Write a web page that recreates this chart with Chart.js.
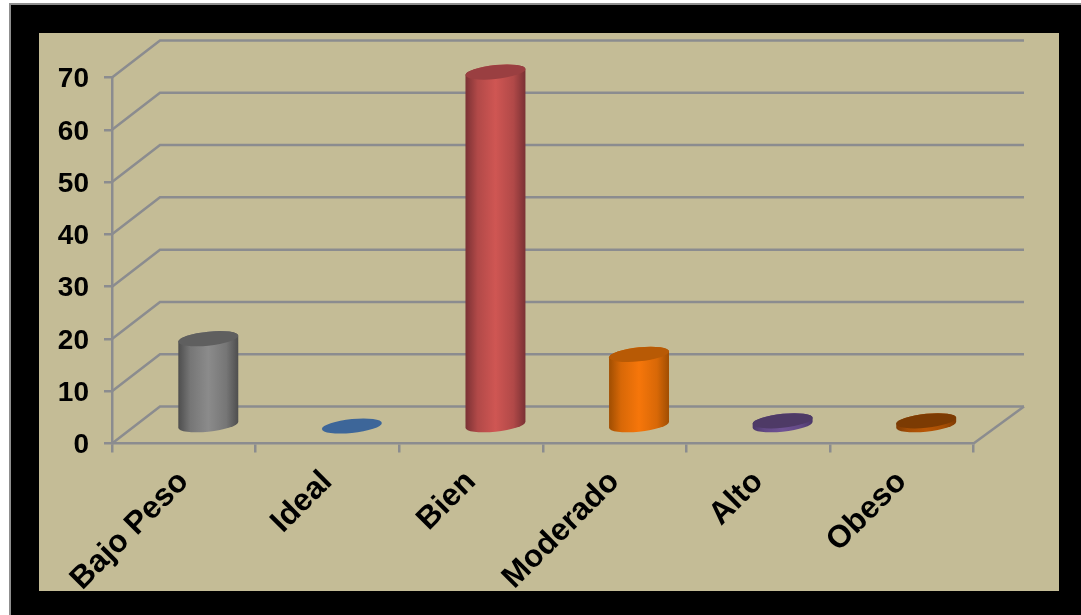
<!DOCTYPE html>
<html lang="es">
<head>
<meta charset="utf-8">
<title>Estado nutricional</title>
<script src="https://cdn.jsdelivr.net/npm/chart.js@4/dist/chart.umd.min.js"></script>
<style>
  html, body { margin: 0; padding: 0; background: #ffffff; overflow: hidden; }
  #frame { position: absolute; left: 9px; top: 3px; width: 1070px; height: 610px;
           background: #000; border-left: 2px solid #8f8f8f; border-top: 2px solid #8f8f8f; }
  #panel { position: absolute; left: 39px; top: 33px; width: 1020px; height: 558px;
           background: #c4bc96; overflow: hidden; }
  canvas { display: block; }
</style>
</head>
<body>
<div id="frame"></div>
<div id="panel"><canvas id="chart" width="1020" height="558"></canvas></div>
<script>
// Categorías y valores
const categories = ['Bajo Peso', 'Ideal', 'Bien', 'Moderado', 'Alto', 'Obeso'];
const values = [16.7, 0, 67.7, 13.7, 1, 1];

// Colores de cada cilindro: centro, borde sombreado y tapa
const bodyColors = ['#8b8b8b', '#3f6899', '#cf5653', '#f6760a', '#6f5294', '#b85605'];
const edgeColors = ['#4e4e4e', '#2d4d75', '#7a3134', '#a04e02', '#4a3768', '#7f3b03'];
const capColors  = ['#5f5f5f', '#3d6699', '#9a3f41', '#b85a05', '#4e3a66', '#7c3b03'];

const gridColor = '#8b8c8f';
const gridWidth = 2.5;
const valueFont = { family: '"Liberation Sans", Arial, sans-serif', size: 28, weight: 'bold' };
const categoryFont = { family: '"Liberation Sans", Arial, sans-serif', size: 31.5, weight: 'bold' };

// Profundidad de la caja 3D y desplazamiento de los cilindros, en píxeles
const depthX = 48;
const depthXRight = 50.5;
const depthY = 37;
const barShiftX = 24.5;
const barShiftY = 17.5;
const capRadiusY = 7;
const capShear = -0.1;

// Mezcla de dos colores hexadecimales para suavizar el sombreado
function mix(a, b, t) {
  const ch = (hex, i) => parseInt(hex.substr(1 + i * 2, 2), 16);
  const parts = [0, 1, 2].map(i => Math.round(ch(a, i) + (ch(b, i) - ch(a, i)) * t));
  return 'rgb(' + parts.join(',') + ')';
}

// Barras dibujadas como cilindros, desplazados a media profundidad
class CylinderController extends Chart.BarController {
  draw() {
    const ctx = this.chart.ctx;
    this.getMeta().data.forEach((bar, i) => {
      const cx = bar.x + barShiftX;
      const topY = bar.y - barShiftY;
      const baseY = bar.base - barShiftY;
      const r = bar.width / 2;
      const ellipse = (y, start, end, ccw) => {
        ctx.save();
        ctx.transform(1, capShear, 0, 1, cx, y);
        ctx.ellipse(0, 0, r, capRadiusY, 0, start, end, ccw);
        ctx.restore();
      };
      if (baseY - topY > 0.5) {
        const center = bar.options.backgroundColor;
        const shade = ctx.createLinearGradient(cx - r, 0, cx + r, 0);
        shade.addColorStop(0, edgeColors[i]);
        shade.addColorStop(0.2, mix(edgeColors[i], center, 0.65));
        shade.addColorStop(0.5, center);
        shade.addColorStop(0.8, mix(edgeColors[i], center, 0.65));
        shade.addColorStop(1, edgeColors[i]);
        ctx.beginPath();
        ellipse(baseY, Math.PI, 0, true);
        ellipse(topY, 0, Math.PI, true);
        ctx.closePath();
        ctx.fillStyle = shade;
        ctx.fill();
      }
      ctx.beginPath();
      ellipse(topY, 0, Math.PI * 2, false);
      ctx.closePath();
      ctx.fillStyle = capColors[i];
      ctx.fill();
    });
  }
}
CylinderController.id = 'cylinder';
CylinderController.defaults = Chart.BarController.defaults;
CylinderController.overrides = Chart.BarController.overrides;
Chart.register(CylinderController);

// Paredes y suelo de la caja: cada marca del eje sube hacia el plano trasero
const wallPlugin = {
  id: 'wall',
  beforeDatasetsDraw(chart) {
    const { ctx, chartArea, scales } = chart;
    ctx.save();
    ctx.strokeStyle = gridColor;
    ctx.lineWidth = gridWidth;
    ctx.lineJoin = 'miter';
    scales.y.ticks.forEach(t => {
      const y = scales.y.getPixelForValue(t.value);
      ctx.beginPath();
      ctx.moveTo(chartArea.left, y);
      ctx.lineTo(chartArea.left + depthX, y - depthY);
      ctx.lineTo(chartArea.right + depthXRight, y - depthY);
      ctx.stroke();
    });
    ctx.beginPath();
    ctx.moveTo(chartArea.right, chartArea.bottom);
    ctx.lineTo(chartArea.right + depthXRight, chartArea.bottom - depthY);
    ctx.stroke();
    ctx.restore();
  }
};

// Baja un poco las etiquetas numéricas para centrar las cifras en su marca
function nudgeValueLabels(scale) {
  const compute = scale._computeLabelItems;
  scale._computeLabelItems = function (area) {
    return compute.call(this, area).map(item => {
      item.options = Object.assign({}, item.options, { translation: [item.options.translation[0], item.options.translation[1] + 1] });
      return item;
    });
  };
}

new Chart(document.getElementById('chart'), {
  type: 'cylinder',
  data: {
    labels: categories,
    datasets: [{
      data: values,
      backgroundColor: bodyColors,
      categoryPercentage: 1,
      barPercentage: 0.4176,
      clip: false
    }]
  },
  plugins: [wallPlugin],
  options: {
    responsive: false,
    animation: false,
    events: [],
    layout: { padding: { top: 44.5, right: 85.5, bottom: 0, left: 0 } },
    plugins: { legend: { display: false }, tooltip: { enabled: false } },
    scales: {
      x: {
        type: 'category',
        afterFit(scale) { scale.height = 147.5; },
        grid: { color: gridColor, lineWidth: gridWidth, drawOnChartArea: false, tickLength: 9 },
        border: { color: gridColor, width: gridWidth },
        ticks: { color: '#000', font: categoryFont, minRotation: 45, maxRotation: 45,
                 autoSkip: false, padding: 11 }
      },
      y: {
        type: 'linear',
        min: 0,
        max: 70,
        afterFit(scale) { scale.width = 73; nudgeValueLabels(scale); },
        grid: { color: gridColor, lineWidth: gridWidth, drawOnChartArea: false, tickLength: 8 },
        border: { color: gridColor, width: gridWidth },
        ticks: { color: '#000', font: valueFont, stepSize: 10, padding: 15 }
      }
    }
  }
});
</script>
</body>
</html>
